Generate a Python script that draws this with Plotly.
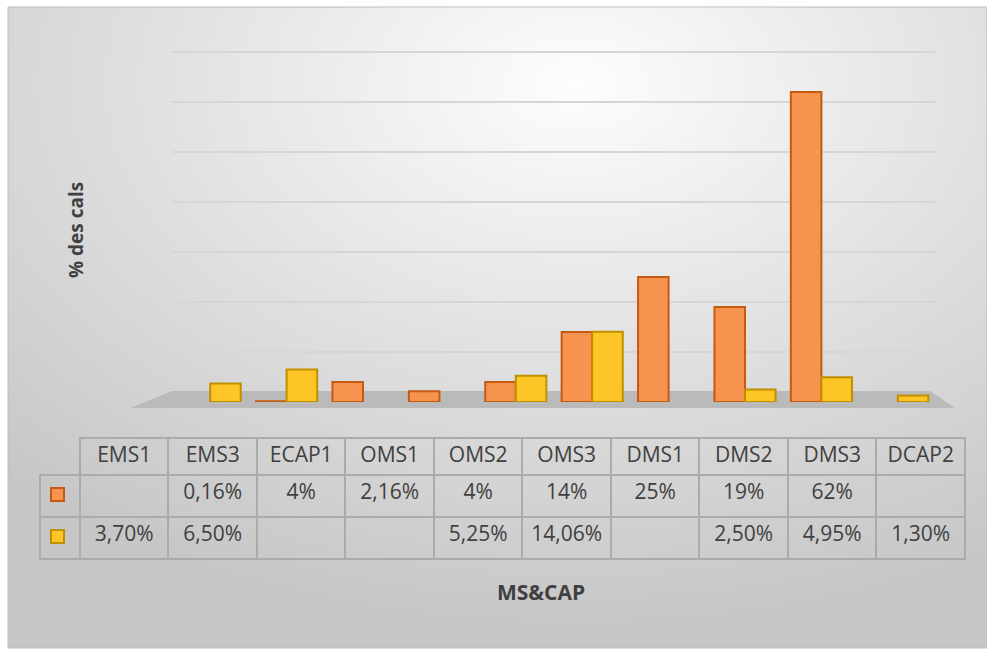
import plotly.graph_objects as go

categories = ["EMS1", "EMS3", "ECAP1", "OMS1", "OMS2", "OMS3", "DMS1", "DMS2", "DMS3", "DCAP2"]
series_a = [None, 0.16, 4, 2.16, 4, 14, 25, 19, 62, None]
series_b = [3.70, 6.50, None, None, 5.25, 14.06, None, 2.50, 4.95, 1.30]
labels_a = ["", "0,16%", "4%", "2,16%", "4%", "14%", "25%", "19%", "62%", ""]
labels_b = ["3,70%", "6,50%", "", "", "5,25%", "14,06%", "", "2,50%", "4,95%", "1,30%"]
y_title = "% des cals"
x_title = "MS&CAP"

W, H = 987, 650
ORANGE_FILL = "#F5934F"
ORANGE_LINE = "#C55A11"
YELLOW_FILL = "#FDC526"
YELLOW_LINE = "#BF9000"
TEXT = "#404040"
GRID = "#D6D6D6"
FONT = "Open Sans"

def px(x):
    return x / W

def py(y):
    return 1 - y / H

fig = go.Figure()

fig.add_trace(go.Bar(x=categories, y=series_a, name="a",
                     marker=dict(color=ORANGE_FILL, line=dict(color=ORANGE_LINE, width=2)),
                     hoverinfo="skip"))
fig.add_trace(go.Bar(x=categories, y=series_b, name="b",
                     marker=dict(color=YELLOW_FILL, line=dict(color=YELLOW_LINE, width=2)),
                     hoverinfo="skip"))

ncols = len(categories)
fig.add_trace(go.Table(
    domain=dict(x=[px(40), px(966)], y=[py(560), py(438)]),
    columnwidth=[40] + [88.6] * ncols,
    header=dict(values=[""] + categories,
                fill=dict(color="rgba(0,0,0,0)"),
                line=dict(color=["rgba(0,0,0,0)"] + ["#ABABAB"] * ncols, width=2),
                font=dict(family=FONT, size=21, color=TEXT),
                align="center", height=37),
    cells=dict(values=[["", ""]] + [[a, b] for a, b in zip(labels_a, labels_b)],
               fill=dict(color="rgba(0,0,0,0)"),
               line=dict(color="#ABABAB", width=2),
               font=dict(family=FONT, size=21, color=TEXT),
               align="center", height=42),
))

bg_svg = (
    "data:image/svg+xml;utf8,"
    "<svg xmlns='http://www.w3.org/2000/svg' width='987' height='650'>"
    "<defs><radialGradient id='g' cx='0.58' cy='0.12' r='0.85' fx='0.58' fy='0.12'>"
    "<stop offset='0' stop-color='%23FDFDFD'/>"
    "<stop offset='0.55' stop-color='%23DEDEDE'/>"
    "<stop offset='1' stop-color='%23C6C6C6'/>"
    "</radialGradient></defs>"
    "<rect width='987' height='650' fill='url(%23g)'/></svg>"
)

fig.update_layout(
    width=W, height=H,
    margin=dict(l=0, r=0, t=0, b=0),
    paper_bgcolor="white",
    plot_bgcolor="rgba(0,0,0,0)",
    showlegend=False,
    barmode="group",
    bargap=0.2,
    bargroupgap=0.0,
    xaxis=dict(domain=[px(172), px(936)], showticklabels=False, showgrid=False,
               zeroline=False, showline=False, ticks=""),
    yaxis=dict(domain=[py(402), py(47)], range=[0, 71], dtick=10,
               showticklabels=False, showgrid=True, gridcolor=GRID, gridwidth=2,
               zeroline=False, showline=False, ticks=""),
    images=[dict(source=bg_svg, xref="paper", yref="paper", x=px(8), y=py(7),
                 sizex=px(987 - 8), sizey=(648 - 7) / H, sizing="stretch",
                 xanchor="left", yanchor="top", layer="below")],
    shapes=[
        dict(type="rect", xref="paper", yref="paper", x0=px(8), x1=px(987), y0=py(648), y1=py(7),
             line=dict(color="#BDBDBD", width=1), fillcolor="rgba(0,0,0,0)", layer="below"),
        dict(type="path", xref="paper", yref="paper", layer="below",
             path=f"M {px(131)} {py(408)} L {px(955)} {py(408)} L {px(930)} {py(391)} L {px(172)} {py(391)} Z",
             fillcolor="#BABABA", line=dict(width=0)),
        dict(type="rect", xref="paper", yref="paper", x0=px(51), x1=px(64), y0=py(501), y1=py(488),
             fillcolor=ORANGE_FILL, line=dict(color=ORANGE_LINE, width=2)),
        dict(type="rect", xref="paper", yref="paper", x0=px(51), x1=px(64), y0=py(543), y1=py(530),
             fillcolor=YELLOW_FILL, line=dict(color=YELLOW_LINE, width=2)),
    ],
    annotations=[
        dict(text=f"<b>{y_title}</b>", xref="paper", yref="paper", x=px(76), y=py(230),
             xanchor="center", yanchor="middle",
             textangle=-90, showarrow=False, font=dict(family=FONT, size=19, color=TEXT)),
        dict(text=f"<b>{x_title}</b>", xref="paper", yref="paper", x=px(541), y=py(592),
             xanchor="center", yanchor="middle",
             showarrow=False, font=dict(family=FONT, size=21, color=TEXT)),
    ],
)

fig.write_html("out.html")
